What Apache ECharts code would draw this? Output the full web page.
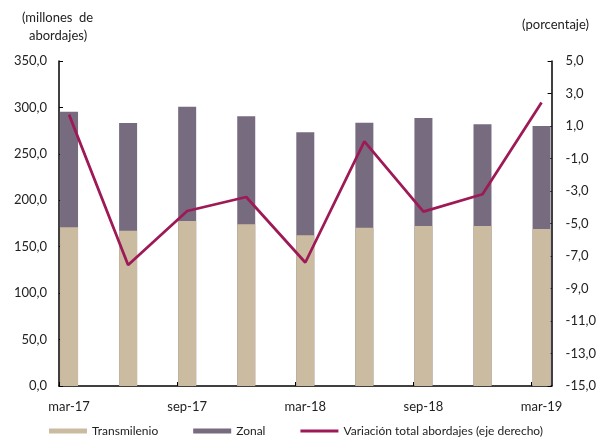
<!DOCTYPE html>
<html>
<head>
<meta charset="utf-8">
<script src="https://cdn.jsdelivr.net/npm/echarts@6/dist/echarts.min.js"></script>
<style>html,body{margin:0;padding:0;background:#fff}#c{width:599px;height:443px}</style>
</head>
<body>
<div id="c"></div>
<script>
const categories = ['mar-17','jun-17','sep-17','dic-17','mar-18','jun-18','sep-18','dic-18','mar-19'];
const transmilenio = [170.9, 167.3, 177.7, 174.1, 162.3, 170.5, 172.3, 172.3, 169.1];
const zonal = [124.5, 115.9, 123.1, 116.3, 110.9, 113.1, 116.3, 109.5, 110.9];
const variacion = [1.7, -7.55, -4.23, -3.37, -7.4, 0.06, -4.27, -3.2, 2.44];
const leftTicks = [0, 350, 50];
const rightTicks = [-15, 5, 2];
const labelIdx = [0, 2, 4, 6, 8];

const FONT = 'Lato';
const TXT = '#222';
const fmt = v => v.toFixed(1).replace('.', ',');
const chart = echarts.init(document.getElementById('c'), null, {renderer: 'canvas'});
const pad = 0.17;
// Zonal is stacked on top of Transmilenio: its bar runs from the Transmilenio top to the total.
const zonalTop = zonal.map((v, i) => v + transmilenio[i]);
chart.setOption({
  animation: false,
  textStyle: {fontFamily: FONT, color: TXT},
  grid: {left: 59, right: 47, top: 61, bottom: 57, containLabel: false},
  legend: {
    bottom: 1, left: 44, itemGap: 35, itemWidth: 38, itemHeight: 5,
    textStyle: {fontFamily: FONT, fontSize: 12, color: TXT},
    data: [
      {name: 'Transmilenio', icon: 'rect'},
      {name: 'Zonal', icon: 'rect'},
      {name: 'Variación total abordajes (eje derecho)', icon: 'path://M0,0 L38,0 L38,3 L0,3 Z'}
    ]
  },
  graphic: [
    {type: 'text', left: 22, top: 11, style: {text: '(millones  de', font: '13px ' + FONT, fill: TXT}},
    {type: 'text', left: 29, top: 29, style: {text: 'abordajes)', font: '13px ' + FONT, fill: TXT}},
    {type: 'text', right: 10, top: 18, style: {text: '(porcentaje)', font: '13px ' + FONT, fill: TXT}}
  ],
  xAxis: {
    type: 'value', min: -pad, max: categories.length - 1 + pad,
    splitLine: {show: false},
    axisLine: {show: true, onZero: false, lineStyle: {color: '#000', width: 1.5}},
    axisTick: {show: true, inside: true, length: 4, lineStyle: {color: '#000'},
      customValues: labelIdx.map(i => i - pad)},
    axisLabel: {customValues: labelIdx, formatter: v => categories[Math.round(v)],
      fontFamily: FONT, fontSize: 13, color: TXT, margin: 14}
  },
  yAxis: [
    {type: 'value', min: leftTicks[0], max: leftTicks[1], interval: leftTicks[2],
      splitLine: {show: false},
      axisLine: {show: true, onZero: false, lineStyle: {color: '#000', width: 1.5}},
      axisTick: {show: true, inside: true, length: 4, lineStyle: {color: '#000'}},
      axisLabel: {formatter: fmt, fontFamily: FONT, fontSize: 13, color: TXT, margin: 12}},
    {type: 'value', position: 'right', min: rightTicks[0], max: rightTicks[1], interval: rightTicks[2],
      splitLine: {show: false},
      axisLine: {show: true, onZero: false, lineStyle: {color: '#000', width: 1.5}},
      axisTick: {show: true, inside: true, length: 4, lineStyle: {color: '#000'}},
      axisLabel: {formatter: fmt, fontFamily: FONT, fontSize: 13, color: TXT, margin: 14}}
  ],
  series: [
    {name: 'Zonal', type: 'bar', barWidth: 18, barGap: '-100%',
      itemStyle: {color: '#776B80'},
      data: zonalTop.map((v, i) => [i, v])},
    {name: 'Transmilenio', type: 'bar', barWidth: 18, barGap: '-100%',
      itemStyle: {color: '#CBBBA0'},
      data: transmilenio.map((v, i) => [i, v])},
    {name: 'Variación total abordajes (eje derecho)', type: 'line', yAxisIndex: 1,
      symbol: 'none', lineStyle: {color: '#9E1A56', width: 2.75}, itemStyle: {color: '#9E1A56'},
      data: variacion.map((v, i) => [i, v])}
  ]
});
</script>
</body>
</html>
